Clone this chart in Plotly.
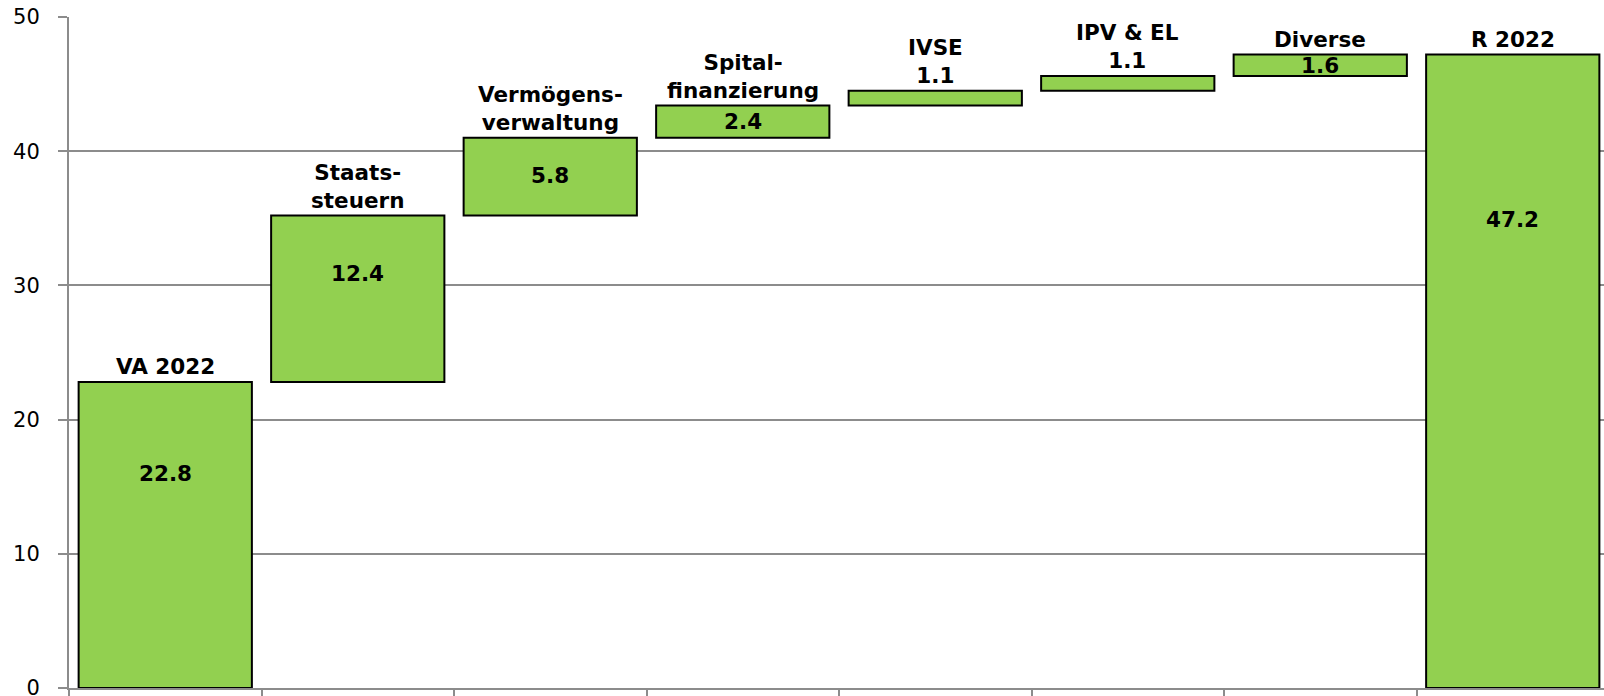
import plotly.graph_objects as go

categories = ["VA 2022", "Staatssteuern", "Vermögensverwaltung", "Spitalfinanzierung",
              "IVSE", "IPV & EL", "Diverse", "R 2022"]
label_text = ["VA 2022", "Staats-<br>steuern", "Vermögens-<br>verwaltung", "Spital-<br>finanzierung",
              "IVSE<br>1.1", "IPV & EL<br>1.1", "Diverse", "R 2022"]
values = [22.8, 12.4, 5.8, 2.4, 1.1, 1.1, 1.6, 47.2]
measures = ["absolute", "relative", "relative", "relative", "relative", "relative", "relative", "total"]
value_labels = ["22.8", "12.4", "5.8", "2.4", None, None, "1.6", "47.2"]
# vertical placement of the value labels inside bars (data units)
value_label_y = [16.0, 30.9, 38.2, 42.25, None, None, 46.4, 34.9]
y_ticks = [0, 10, 20, 30, 40, 50]

GREEN = "#92D050"
GRID = "#8c8c8c"

fig = go.Figure()
fig.add_trace(go.Waterfall(
    x=categories, y=values, measure=measures,
    width=0.9,
    increasing=dict(marker=dict(color=GREEN, line=dict(color="black", width=2))),
    decreasing=dict(marker=dict(color=GREEN, line=dict(color="black", width=2))),
    totals=dict(marker=dict(color=GREEN, line=dict(color="black", width=2))),
    connector=dict(visible=False),
    showlegend=False, hoverinfo="skip",
))

# tops of bars for category labels
tops = []
run = 0
for v, m in zip(values, measures):
    if m == "absolute":
        run = v
    elif m == "relative":
        run += v
    tops.append(run)

lab_font = dict(family="DejaVu Sans", size=21.5, color="black")
for c, t, top in zip(categories, label_text, tops):
    fig.add_annotation(x=c, y=top, text="<b>" + t + "</b>", showarrow=False,
                       yanchor="bottom", yshift=1, font=lab_font, align="center")
for c, t, ly in zip(categories, value_labels, value_label_y):
    if t is None:
        continue
    fig.add_annotation(x=c, y=ly, text="<b>" + t + "</b>", showarrow=False,
                       yanchor="middle", font=lab_font)

fig.update_layout(
    width=1604, height=696,
    margin=dict(l=69, r=0, t=17, b=8),
    plot_bgcolor="white", paper_bgcolor="white",
    xaxis=dict(type="category", range=[-0.5, 7.474], tickson="boundaries",
               ticks="outside", ticklen=8, tickwidth=2, tickcolor=GRID,
               showticklabels=False, showline=True, linecolor=GRID, linewidth=2,
               showgrid=False, zeroline=False, automargin=False),
    yaxis=dict(range=[0, 50], tickvals=y_ticks, ticks="outside", ticklen=9,
               tickwidth=2, tickcolor=GRID, showline=True, linecolor=GRID, linewidth=2,
               gridcolor=GRID, gridwidth=2, zeroline=False, automargin=False,
               ticklabelstandoff=14, ticklabeloverflow="allow",
               tickfont=dict(family="DejaVu Sans", size=21, color="black")),
)

fig.write_html("out.html", config={"displayModeBar": False},
               post_script="document.body.style.margin='0';document.body.style.overflow='hidden';")
